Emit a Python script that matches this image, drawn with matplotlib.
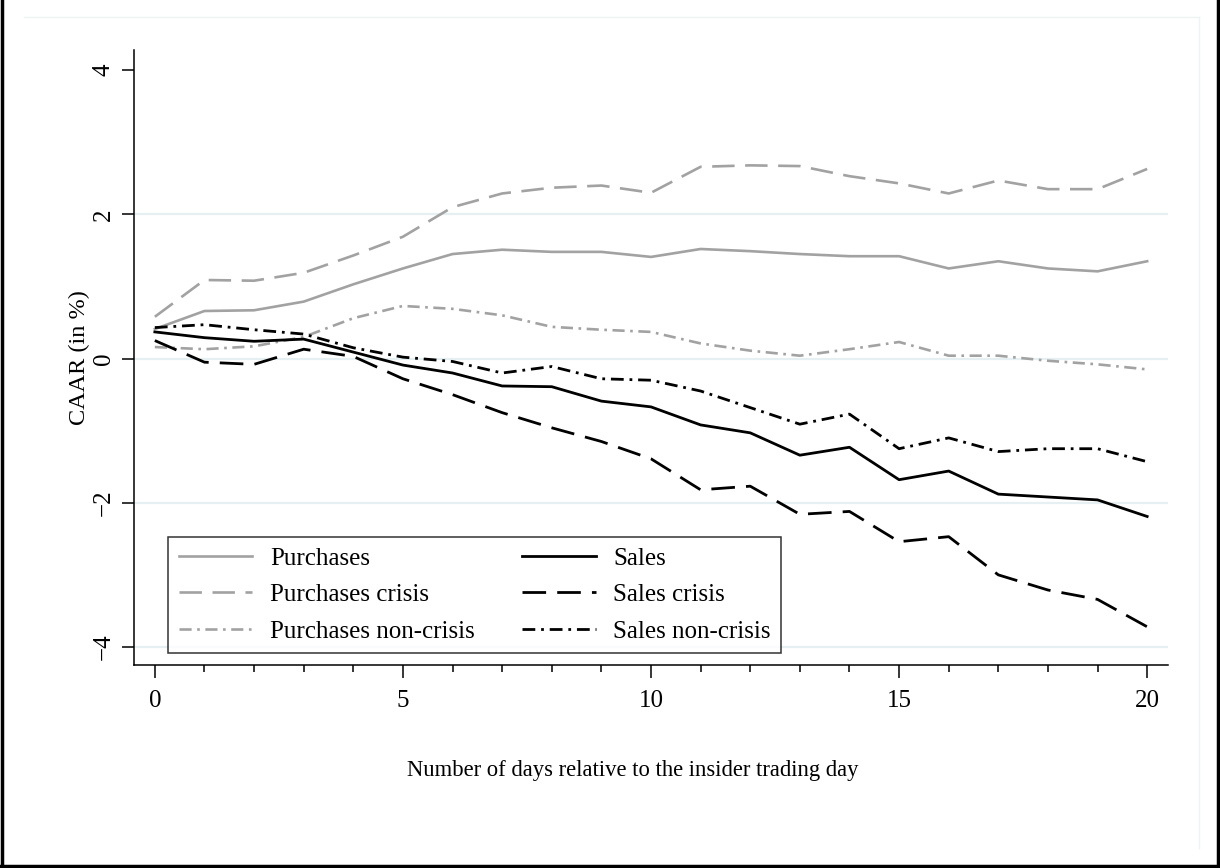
import matplotlib
matplotlib.use("Agg")
import matplotlib.pyplot as plt
from matplotlib.lines import Line2D

plt.rcParams['font.family'] = ['Liberation Serif', 'DejaVu Serif']

days = list(range(21))
purchases = [0.41, 0.66, 0.67, 0.79, 1.03, 1.25, 1.45, 1.51, 1.48, 1.48, 1.41,
             1.52, 1.49, 1.45, 1.42, 1.42, 1.25, 1.35, 1.25, 1.21, 1.35]
purchases_crisis = [0.58, 1.09, 1.08, 1.19, 1.43, 1.69, 2.10, 2.29, 2.37, 2.40, 2.30,
                    2.66, 2.68, 2.67, 2.53, 2.43, 2.29, 2.47, 2.35, 2.35, 2.63]
purchases_noncrisis = [0.16, 0.13, 0.17, 0.30, 0.56, 0.73, 0.69, 0.60, 0.44, 0.40, 0.37,
                       0.21, 0.11, 0.04, 0.13, 0.23, 0.04, 0.04, -0.03, -0.08, -0.15]
sales = [0.37, 0.29, 0.24, 0.27, 0.09, -0.09, -0.20, -0.38, -0.39, -0.59, -0.67,
         -0.92, -1.03, -1.34, -1.23, -1.68, -1.56, -1.88, -1.92, -1.96, -2.19]
sales_crisis = [0.25, -0.05, -0.08, 0.13, 0.03, -0.28, -0.50, -0.75, -0.96, -1.15, -1.39,
                -1.82, -1.77, -2.16, -2.12, -2.54, -2.47, -3.00, -3.21, -3.34, -3.72]
sales_noncrisis = [0.43, 0.47, 0.40, 0.34, 0.15, 0.02, -0.04, -0.20, -0.11, -0.28, -0.30,
                   -0.45, -0.68, -0.91, -0.77, -1.25, -1.10, -1.29, -1.25, -1.25, -1.43]

labels = ["Purchases", "Purchases crisis", "Purchases non-crisis",
          "Sales", "Sales crisis", "Sales non-crisis"]
xticks = [0, 5, 10, 15, 20]
yticks = [-4, -2, 0, 2, 4]
grid_vals = [-4, -2, 0, 2]

GREY = '#a2a2a2'
BLACK = '#000000'
LW = 1.9
solid = '-'
dashed = (0, (8.5, 4))
dashdot = (0, (4.6, 2.1, 1.0, 2.1))

fig = plt.figure(figsize=(12.2, 8.68), dpi=100)
ax = fig.add_axes([134/1220, 1-665/868, 1034/1220, 615/868])

for g in grid_vals:
    ax.axhline(g, color='#e6eff1', lw=1.6, zorder=0)

series = [purchases, purchases_crisis, purchases_noncrisis,
          sales, sales_crisis, sales_noncrisis]
colors = [GREY, GREY, GREY, BLACK, BLACK, BLACK]
styles = [solid, dashed, dashdot, solid, dashed, dashdot]
lws = [LW, LW, LW, 2.0, 2.0, 2.0]
handles = []
for s, c, ls, lw, lab in zip(series, colors, styles, lws, labels):
    h, = ax.plot(days, s, color=c, linestyle=ls, lw=lw, label=lab, zorder=3)
    handles.append(h)

ax.set_xlim(-0.42, 20.42)
ax.set_ylim(-4.25, 4.28)
ax.set_xticks(xticks)
ax.set_xticks(days, minor=True)
ax.set_yticks(yticks)
ax.set_yticklabels([str(v).replace('-', '\u2212') for v in yticks], rotation=90, va='center')
ax.tick_params(axis='both', which='major', length=9, width=1.1, labelsize=18)
ax.tick_params(axis='x', which='major', pad=9)
ax.tick_params(axis='y', which='major', pad=5)
ax.tick_params(axis='x', which='minor', length=5, width=1.1)
for sp in ['top', 'right']:
    ax.spines[sp].set_visible(False)
for sp in ['left', 'bottom']:
    ax.spines[sp].set_linewidth(1.1)

ax.set_xlabel("Number of days relative to the insider trading day", fontsize=16.3)
ax.xaxis.set_label_coords(0.482, -0.155)
ax.set_ylabel("CAAR (in %)", fontsize=17.5, labelpad=2)

leg = ax.legend(handles=handles, labels=labels, ncol=2, loc='lower left',
                bbox_to_anchor=(0.0329, 0.0195), borderaxespad=0,
                fontsize=18, frameon=True, fancybox=False, edgecolor='black',
                handlelength=2.95, handletextpad=0.7, columnspacing=1.9,
                labelspacing=0.56, borderpad=0.42)
leg.get_frame().set_linewidth(1.1)
leg.set_zorder(5)

# figure frame
fig.add_artist(Line2D([2/1220, 2/1220], [0, 1], color='black', lw=2.5, transform=fig.transFigure))
fig.add_artist(Line2D([1218/1220, 1218/1220], [0, 1], color='black', lw=2.5, transform=fig.transFigure))
fig.add_artist(Line2D([0, 1], [2/868, 2/868], color='black', lw=2.5, transform=fig.transFigure))
fig.add_artist(Line2D([24/1220, 1199/1220], [1-17/868, 1-17/868], color='#eef3f4', lw=1, transform=fig.transFigure))
fig.add_artist(Line2D([1199/1220, 1199/1220], [1-17/868, 1-848/868], color='#eef3f4', lw=1, transform=fig.transFigure))

fig.savefig("out.png", dpi=100)
